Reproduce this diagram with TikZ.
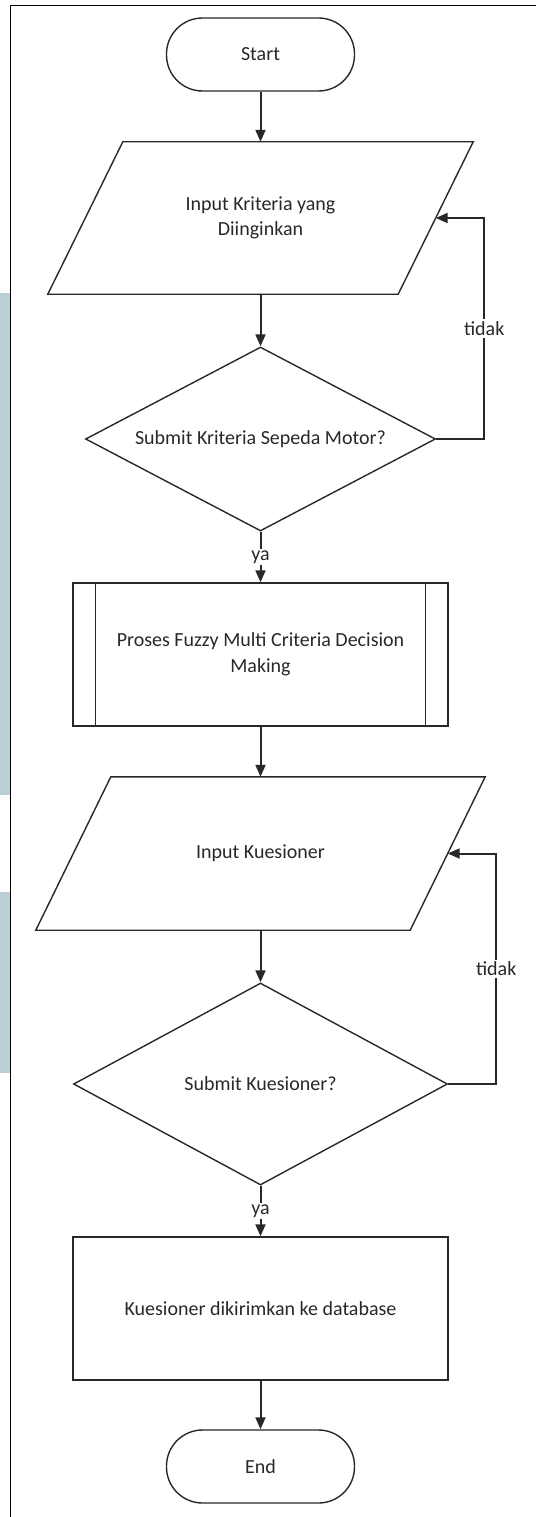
\documentclass[tikz,border=0pt]{standalone}
\usepackage{fontspec}
\setmainfont{Carlito}
\usetikzlibrary{arrows.meta,shapes.geometric,calc}
\definecolor{stripec}{RGB}{188,207,214}
\definecolor{inkc}{RGB}{40,40,40}
\begin{document}
\begin{tikzpicture}[x=1pt,y=-1pt,
  every node/.style={font=\fontsize{20}{25.5}\selectfont, text=inkc},
  shapeline/.style={draw=inkc, line width=1.4pt},
  term/.style={shapeline, rectangle, rounded corners=36pt, minimum width=188pt, minimum height=73pt, inner sep=0pt},
  boxc/.style={shapeline, rectangle, minimum width=375pt, minimum height=143pt, inner sep=0pt, align=center},
  dec/.style={shapeline, diamond, inner sep=0pt, align=center},
  iobox/.style={inner sep=0pt, align=center},
  flow/.style={draw=inkc, line width=2pt, -{Triangle[length=12pt,width=10pt]}},
  lbl/.style={fill=white, inner sep=2pt},
]
\useasboundingbox (0,0) rectangle (536,1517);
% side stripe and frame
\fill[stripec] (0,293) rectangle (9.5,795);
\fill[stripec] (0,892) rectangle (9.5,1073);
\draw[line width=1.6pt, black] (10.5,1517) -- (10.5,5.5) -- (536,5.5);

% nodes
\node[term] (start) at (260.5,54.5) {Start};
\node[iobox, minimum width=425pt, minimum height=152pt] (p1) at (260.5,218) {Input Kriteria yang\\Diinginkan};
\draw[shapeline] ([xshift=75pt]p1.north west) -- (p1.north east) -- ([xshift=-75pt]p1.south east) -- (p1.south west) -- cycle;
\coordinate (p1r) at ($(p1.north east)!0.5!([xshift=-75pt]p1.south east)$);

\node[dec, minimum width=350pt, minimum height=184pt, aspect=1.9] (d1) at (260.5,439) {Submit Kriteria Sepeda Motor?};

\node[boxc] (proc) at (260.5,654.5) {Proses Fuzzy Multi Criteria Decision\\Making};
\draw[shapeline] ([xshift=23pt]proc.north west) -- ([xshift=23pt]proc.south west);
\draw[shapeline] ([xshift=-23pt]proc.north east) -- ([xshift=-23pt]proc.south east);

\node[iobox, minimum width=449pt, minimum height=153pt] (p2) at (260.5,853.5) {Input Kuesioner};
\draw[shapeline] ([xshift=75pt]p2.north west) -- (p2.north east) -- ([xshift=-75pt]p2.south east) -- (p2.south west) -- cycle;
\coordinate (p2r) at ($(p2.north east)!0.5!([xshift=-75pt]p2.south east)$);

\node[dec, minimum width=374pt, minimum height=202pt, aspect=1.85] (d2) at (260.5,1084) {Submit Kuesioner?};

\node[boxc] (db) at (260.5,1308.5) {Kuesioner dikirimkan ke database};
\node[term] (end) at (260.5,1466.5) {End};

% connectors
\draw[flow] (start.south) -- (p1.north);
\draw[flow] (p1.south) -- (d1.north);
\draw[flow] (d1.south) -- node[lbl] {ya} (proc.north);
\draw[flow] (d1.east) -- ++(48,0) |- node[lbl, pos=0.25] {tidak} (p1r);
\draw[flow] (proc.south) -- (p2.north);
\draw[flow] (p2.south) -- (d2.north);
\draw[flow] (d2.south) -- node[lbl] {ya} (db.north);
\draw[flow] (d2.east) -- ++(48,0) |- node[lbl, pos=0.25] {tidak} (p2r);
\draw[flow] (db.south) -- (end.north);
\end{tikzpicture}
\end{document}
